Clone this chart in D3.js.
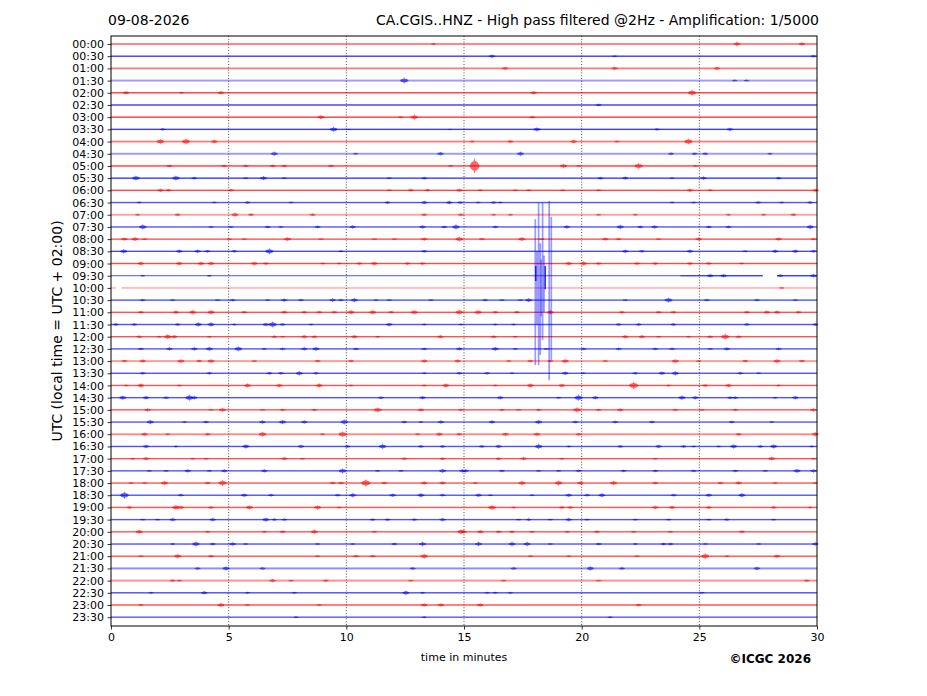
<!DOCTYPE html>
<html>
<head>
<meta charset="utf-8">
<script src="https://cdn.jsdelivr.net/npm/d3@7"></script>
<style>
	body { margin: 0; background: #fff; }
	svg text { font-family: "DejaVu Sans", sans-serif; fill: #000; }
</style>
</head>
<body>
<svg id="chart" width="927" height="696"></svg>
<script>
//===== DATA =====//

var dayLabel = '09-08-2026';
var titleText = 'CA.CGIS..HNZ - High pass filtered @2Hz - Amplification: 1/5000';
var yTitle = 'UTC (local time = UTC + 02:00)';
var xTitle = 'time in minutes';
var creditText = '\u00a9ICGC 2026';

var minuteTicks = [0, 5, 10, 15, 20, 25, 30];

var rowLabels = [
	'00:00', '00:30', '01:00', '01:30', '02:00', '02:30', '03:00', '03:30',
	'04:00', '04:30', '05:00', '05:30', '06:00', '06:30', '07:00', '07:30',
	'08:00', '08:30', '09:00', '09:30', '10:00', '10:30', '11:00', '11:30',
	'12:00', '12:30', '13:00', '13:30', '14:00', '14:30', '15:00', '15:30',
	'16:00', '16:30', '17:00', '17:30', '18:00', '18:30', '19:00', '19:30',
	'20:00', '20:30', '21:00', '21:30', '22:00', '22:30', '23:00', '23:30'
];

var traceColors = ['#ff0000', '#0000ff'];

// background noise level of each trace (counts)
var rowNoise = [
	200, 150, 220, 300, 150, 150, 150, 150,
	220, 300, 150, 150, 160, 170, 320, 220,
	170, 160, 160, 150, 450, 170, 170, 170,
	170, 170, 300, 170, 170, 170, 170, 190,
	260, 170, 170, 170, 170, 170, 170, 170,
	170, 170, 170, 260, 260, 160, 160, 200
];

// [minute, amplitude in counts] for the visible wave bursts of each trace
var rowBursts = [
	[[13.7, 300], [26.6, 600], [29.36, 500]],
	[[16.19, 500], [21.4, 300], [29.85, 400]],
	[[16.75, 500], [21.4, 500], [25.75, 500]],
	[[12.46, 800], [26.5, 300], [27.0, 300]],
	[[0.64, 500], [3.0, 300], [4.67, 500], [17.96, 500], [24.69, 800]],
	[[20.72, 400]],
	[[8.92, 600], [12.3, 300], [12.89, 700], [17.9, 400]],
	[[2.2, 400], [9.46, 700], [10.1, 200], [14.4, 200], [18.1, 600], [23.2, 400], [26.3, 500]],
	[[2.1, 700], [3.19, 800], [4.39, 500], [15.34, 300], [16.97, 400], [19.66, 500], [21.5, 300], [24.54, 800]],
	[[6.94, 600], [10.4, 300], [14.0, 500], [17.4, 600], [23.8, 400], [24.8, 400], [25.25, 400], [28.0, 300]],
	[[2.48, 400], [4.81, 400], [5.73, 400], [6.87, 400], [7.36, 400], [9.35, 400], [14.44, 300], [15.45, 2000], [19.23, 600], [19.87, 300], [22.42, 800], [24.83, 300]],
	[[1.06, 700], [2.76, 700], [3.54, 400], [5.73, 300], [6.48, 600], [7.36, 300], [11.82, 300], [13.31, 400], [20.8, 400], [21.85, 500], [23.84, 300], [25.18, 500], [28.37, 400]],
	[[2.1, 500], [2.44, 400], [5.1, 400], [11.82, 300], [12.74, 400], [13.45, 400], [14.8, 500], [15.7, 300], [17.18, 300], [17.75, 300], [19.2, 300], [20.72, 300], [24.6, 500], [25.46, 300], [29.95, 500]],
	[[1.2, 300], [4.39, 300], [5.8, 400], [7.65, 300], [11.75, 400], [13.31, 500], [14.37, 500], [14.84, 400], [15.6, 300], [16.26, 400], [16.54, 300], [23.84, 300], [24.76, 300], [27.5, 400], [28.5, 300], [29.71, 400]],
	[[1.13, 300], [2.83, 400], [5.27, 600], [5.95, 400], [8.57, 400], [13.31, 400], [14.87, 400], [16.26, 300], [16.97, 300], [20.72, 300], [22.28, 300], [26.24, 300], [27.73, 300], [29.0, 400]],
	[[1.35, 700], [4.25, 300], [5.1, 300], [6.66, 400], [7.22, 300], [8.78, 400], [10.27, 500], [13.24, 500], [14.16, 400], [14.66, 700], [16.33, 400], [19.37, 500], [21.64, 600], [22.49, 400], [23.1, 500], [25.4, 400], [26.24, 400], [29.71, 600]],
	[[0.57, 500], [1.02, 600], [1.42, 300], [5.03, 300], [5.66, 300], [7.5, 600], [8.92, 300], [11.19, 300], [12.04, 300], [13.31, 500], [14.8, 700], [15.76, 400], [17.46, 600], [18.3, 300], [21.0, 500], [21.57, 400], [23.27, 300], [24.97, 500], [28.37, 500], [29.85, 400]],
	[[0.54, 600], [2.9, 500], [3.68, 500], [4.1, 400], [5.24, 400], [6.73, 800], [9.77, 300], [13.31, 400], [21.85, 500], [22.56, 400], [24.6, 500], [26.95, 300], [28.22, 500], [29.08, 500], [29.85, 400]],
	[[1.27, 500], [2.9, 500], [3.82, 500], [4.25, 500], [6.09, 500], [6.58, 400], [9.0, 300], [9.7, 300], [10.55, 400], [11.19, 500], [12.6, 400], [13.24, 400], [19.45, 500], [20.08, 600], [20.72, 400], [22.35, 400], [23.13, 400], [24.6, 400], [25.4, 400], [26.8, 300]],
	[[1.35, 300], [4.18, 300], [25.46, 500], [26.03, 500], [28.44, 400], [29.85, 500]],
	[[28.5, 300]],
	[[1.35, 400], [2.62, 300], [4.53, 300], [5.17, 400], [6.66, 300], [7.36, 500], [8.07, 400], [9.42, 500], [9.77, 400], [10.34, 600], [11.26, 300], [11.82, 300], [13.6, 300], [15.9, 400], [16.61, 300], [17.4, 300], [17.75, 600], [21.85, 300], [23.69, 700], [25.32, 400], [27.45, 400], [29.08, 300]],
	[[1.27, 400], [2.76, 500], [3.47, 600], [4.25, 600], [5.66, 400], [7.36, 500], [8.21, 400], [8.85, 400], [9.49, 400], [10.2, 600], [11.12, 600], [11.9, 400], [12.89, 600], [14.8, 700], [15.6, 600], [16.33, 400], [17.25, 400], [18.67, 600], [21.71, 400], [23.27, 400], [23.9, 400], [27.02, 400], [27.87, 500], [28.3, 500], [29.22, 400]],
	[[0.21, 400], [0.99, 400], [2.83, 400], [3.71, 600], [4.25, 600], [5.24, 300], [6.58, 500], [6.87, 800], [7.29, 400], [8.5, 300], [11.82, 500], [13.31, 300], [14.87, 300], [16.33, 300], [17.11, 300], [21.57, 400], [22.42, 400], [23.9, 400], [27.02, 400], [29.93, 400]],
	[[1.2, 400], [2.05, 300], [2.41, 700], [2.69, 500], [4.18, 300], [6.94, 400], [7.29, 300], [8.21, 500], [8.64, 400], [10.34, 500], [11.33, 300], [14.0, 500], [16.26, 400], [17.18, 300], [21.85, 500], [22.56, 500], [23.27, 300], [24.54, 300], [25.46, 400], [26.1, 800], [26.67, 400]],
	[[1.27, 400], [2.48, 500], [3.54, 500], [4.18, 600], [5.41, 700], [6.51, 300], [7.29, 400], [8.21, 500], [8.71, 600], [10.41, 400], [13.31, 400], [14.8, 500], [16.33, 600], [17.18, 300], [18.5, 300], [20.08, 400], [21.57, 400], [23.13, 400], [23.84, 400], [25.46, 300], [26.17, 500], [28.37, 400]],
	[[0.57, 400], [1.35, 500], [2.97, 600], [3.75, 400], [4.25, 600], [6.09, 300], [8.78, 400], [10.2, 400], [13.31, 500], [14.73, 500], [16.9, 300], [17.82, 400], [18.67, 400], [19.3, 600], [21.0, 300], [23.98, 600], [24.97, 300], [26.95, 400], [28.3, 600], [29.36, 400]],
	[[1.35, 400], [4.18, 400], [6.73, 400], [7.22, 400], [8.0, 600], [8.71, 400], [13.31, 300], [14.8, 400], [15.98, 400], [17.04, 300], [19.3, 500], [20.08, 300], [22.28, 400], [23.41, 500], [23.98, 600], [26.74, 400], [27.52, 300]],
	[[0.64, 300], [1.27, 600], [2.9, 300], [5.8, 600], [7.15, 500], [8.85, 600], [10.2, 300], [13.31, 300], [14.23, 600], [16.33, 300], [17.82, 600], [19.16, 500], [22.21, 1000], [23.69, 300], [25.25, 400], [26.24, 500], [28.37, 300]],
	[[0.5, 600], [1.49, 500], [2.34, 400], [3.33, 800], [3.54, 500], [11.47, 400], [13.24, 500], [16.54, 500], [19.02, 300], [19.87, 800], [20.58, 500], [24.26, 600], [24.83, 500], [26.31, 400], [26.53, 400], [28.22, 300], [29.08, 500]],
	[[1.56, 500], [4.25, 300], [4.74, 600], [6.44, 300], [7.29, 400], [8.64, 400], [11.33, 700], [13.17, 500], [14.87, 400], [16.61, 400], [17.32, 300], [18.17, 400], [19.8, 700], [20.72, 400], [21.64, 500], [23.98, 400], [25.11, 300], [26.53, 400], [29.85, 500]],
	[[1.67, 600], [3.12, 300], [4.04, 400], [6.44, 500], [7.29, 600], [8.21, 500], [9.91, 700], [12.46, 400], [13.17, 300], [14.02, 500], [16.19, 500], [18.17, 600], [19.73, 400], [21.43, 400], [22.99, 400], [26.38, 400], [28.08, 300]],
	[[1.42, 500], [2.41, 300], [4.11, 400], [6.44, 700], [8.99, 300], [9.84, 800], [13.03, 300], [13.95, 500], [14.8, 400], [16.76, 500], [18.1, 500], [19.87, 400], [26.67, 400], [29.93, 600]],
	[[1.49, 500], [2.76, 300], [5.73, 600], [8.07, 500], [10.05, 400], [11.54, 700], [13.17, 400], [14.09, 400], [15.76, 400], [16.47, 500], [18.17, 700], [19.45, 300], [21.64, 400], [23.27, 500], [24.33, 400], [24.76, 300], [25.82, 300], [26.46, 600], [27.59, 400], [28.16, 600], [29.78, 300]],
	[[0.92, 300], [1.49, 500], [3.47, 300], [4.04, 300], [7.36, 500], [8.14, 300], [12.46, 400], [14.09, 400], [16.47, 400], [17.53, 500], [19.16, 300], [23.13, 300], [28.08, 600], [29.85, 300]],
	[[1.63, 300], [2.34, 300], [3.26, 500], [4.18, 300], [4.81, 500], [6.51, 500], [9.84, 700], [11.33, 300], [12.32, 300], [14.09, 600], [14.94, 500], [15.06, 500], [16.61, 400], [18.17, 300], [19.02, 300], [19.87, 400], [21.78, 400], [23.13, 400], [24.76, 400], [26.53, 400], [27.8, 300], [29.15, 600], [29.85, 500]],
	[[0.85, 300], [1.42, 300], [2.27, 600], [4.11, 400], [4.74, 800], [9.42, 400], [9.77, 400], [10.83, 1000], [11.61, 400], [13.31, 500], [14.09, 500], [15.48, 300], [17.46, 600], [19.02, 700], [19.94, 500], [21.36, 600], [23.13, 400], [25.89, 400], [26.67, 500], [28.22, 300], [29.93, 300]],
	[[0.57, 900], [2.97, 400], [5.66, 500], [6.8, 400], [9.63, 400], [10.27, 600], [11.97, 500], [13.17, 600], [14.09, 400], [15.62, 500], [16.12, 300], [17.89, 300], [19.45, 500], [20.23, 400], [20.86, 600], [23.91, 400], [25.4, 500], [26.81, 600]],
	[[0.78, 400], [2.76, 700], [2.97, 500], [4.25, 400], [5.88, 600], [8.78, 600], [9.7, 300], [16.19, 700], [17.11, 300], [19.16, 400], [19.52, 400], [23.13, 500], [23.84, 500], [25.4, 400], [28.16, 400], [29.71, 300]],
	[[1.35, 300], [1.98, 300], [2.62, 500], [4.32, 500], [6.58, 600], [6.94, 400], [7.36, 400], [11.12, 400], [11.75, 400], [12.89, 400], [14.09, 500], [17.32, 300], [17.75, 400], [18.67, 300], [19.45, 500], [20.23, 300], [22.28, 300], [23.69, 300], [25.4, 300], [26.17, 400], [28.16, 300]],
	[[1.2, 600], [4.11, 300], [6.51, 300], [7.29, 400], [8.64, 600], [11.19, 300], [14.87, 700], [14.99, 500], [15.69, 500], [16.47, 400], [17.04, 400], [17.89, 300], [19.38, 300], [20.65, 400], [22.21, 300], [23.77, 300], [26.81, 400]],
	[[2.62, 300], [3.61, 700], [4.32, 400], [5.17, 500], [5.73, 300], [8.78, 300], [10.27, 300], [12.04, 400], [13.24, 600], [15.62, 600], [17.04, 600], [17.68, 600], [18.67, 300], [20.72, 400], [22.28, 300], [23.48, 400], [23.77, 400], [25.25, 300], [27.52, 300], [29.93, 500]],
	[[1.27, 300], [2.83, 600], [4.25, 400], [8.78, 300], [10.41, 400], [11.12, 400], [13.31, 700], [17.82, 300], [19.45, 300], [22.35, 300], [25.25, 800], [26.17, 300], [28.3, 500]],
	[[3.68, 400], [4.89, 600], [6.44, 400], [12.82, 400], [17.11, 400], [20.37, 600], [21.71, 400], [27.45, 500]],
	[[2.62, 400], [2.9, 300], [6.87, 500], [7.65, 300], [9.13, 400], [12.74, 300], [16.68, 300], [20.72, 300], [29.57, 400]],
	[[1.7, 300], [3.96, 500], [5.8, 300], [7.79, 300], [12.53, 600], [13.24, 300], [15.98, 300], [16.33, 300], [16.97, 300], [25.11, 300]],
	[[1.27, 300], [4.67, 600], [5.8, 300], [8.85, 300], [13.31, 500], [14.02, 500], [15.69, 500], [22.42, 400]],
	[[7.86, 300], [13.31, 300], [21.21, 300]]
];

// large transients on the 09:30 trace: [minute, up counts, down counts, strong]
var spikeRow = '09:30';
var spikes = [
	[18.03, 13900, 22000, 0], [18.10, 6000, 12000, 0], [18.17, 17900, 22000, 0],
	[18.24, 8000, 19500, 0], [18.28, 4000, 10000, 0], [18.34, 17900, 15800, 0],
	[18.40, 5000, 9000, 0], [18.62, 18400, 25700, 0], [18.71, 14500, 20700, 0],
	[18.05, 2400, 1300, 1], [18.45, 2400, 3300, 1]
];

// spans where the trace is flat, and spans with no data: [row, from, to]
var quietSpans = [['09:30', 0, 24.19]];
var traceGaps = [['09:30', 27.7, 28.3], ['10:00', 0.2, 0.45]];

//===== CHART =====//

var svg = d3.select('#chart');
var plot = {left: 111, right: 817, top: 36, bottom: 626};

var x = d3.scaleLinear().domain([0, 30]).range([plot.left, plot.right]);
var y = d3.scalePoint().domain(rowLabels).range([44, 617.2]);
var amp = d3.scaleLinear().domain([0, 3000]).range([0, y.step()]);

// grid
svg.append('g').selectAll('line')
	.data(minuteTicks.slice(1, -1))
	.enter().append('line')
	.attr('x1', function (d) { return x(d); }).attr('x2', function (d) { return x(d); })
	.attr('y1', plot.top).attr('y2', plot.bottom)
	.attr('stroke', '#222').attr('stroke-width', 0.8)
	.attr('stroke-dasharray', '1,1.8');

function rowSegments(label) {
	var cuts = [[0, 30, false]];
	quietSpans.concat(traceGaps).forEach(function (s) {
		if (s[0] !== label) { return; }
		var isGap = traceGaps.indexOf(s) >= 0;
		var next = [];
		cuts.forEach(function (c) {
			if (s[2] <= c[0] || s[1] >= c[1]) { next.push(c); return; }
			if (s[1] > c[0]) { next.push([c[0], s[1], c[2]]); }
			if (!isGap) { next.push([Math.max(s[1], c[0]), Math.min(s[2], c[1]), true]); }
			if (s[2] < c[1]) { next.push([s[2], c[1], c[2]]); }
		});
		cuts = next;
	});
	return cuts;
}

var traces = svg.append('g');

rowLabels.forEach(function (label, i) {
	var color = traceColors[i % 2];
	var y0 = y(label);
	var noise = rowNoise[i];
	var g = traces.append('g');

	rowSegments(label).forEach(function (seg) {
		if (seg[2]) {
			g.append('line')
				.attr('x1', x(seg[0])).attr('x2', x(seg[1]))
				.attr('y1', y0).attr('y2', y0)
				.attr('stroke', color).attr('stroke-width', 1)
				.attr('stroke-opacity', 0.7);
		} else {
			var h = Math.max(0.7, Math.min(amp(noise), 1));
			g.append('rect')
				.attr('x', x(seg[0])).attr('width', x(seg[1]) - x(seg[0]))
				.attr('y', y0 - h).attr('height', 2 * h)
				.attr('fill', color)
				.attr('fill-opacity', Math.min(0.78, 115 / noise));
		}
	});

	g.selectAll('path')
		.data(rowBursts[i])
		.enter().append('path')
		.attr('d', function (d) {
			var w = Math.min(0.09 + d[1] / 8000, 0.22), a = amp(d[1]);
			var p = d3.path();
			p.moveTo(x(d[0] - w), y0);
			p.lineTo(x(d[0] - w * 0.6), y0 - a * 0.45);
			p.lineTo(x(d[0] - w * 0.15), y0 - a * 0.6);
			p.lineTo(x(d[0]), y0 - a);
			p.lineTo(x(d[0] + w * 0.15), y0 - a * 0.6);
			p.lineTo(x(d[0] + w * 0.6), y0 - a * 0.45);
			p.lineTo(x(d[0] + w), y0);
			p.lineTo(x(d[0] + w * 0.6), y0 + a * 0.45);
			p.lineTo(x(d[0] + w * 0.15), y0 + a * 0.6);
			p.lineTo(x(d[0]), y0 + a);
			p.lineTo(x(d[0] - w * 0.15), y0 + a * 0.6);
			p.lineTo(x(d[0] - w * 0.6), y0 + a * 0.45);
			p.closePath();
			return p.toString();
		})
		.attr('fill', color)
		.attr('fill-opacity', 0.6);
});

svg.append('g').selectAll('line')
	.data(spikes)
	.enter().append('line')
	.attr('x1', function (d) { return x(d[0]); }).attr('x2', function (d) { return x(d[0]); })
	.attr('y1', function (d) { return y(spikeRow) - amp(d[1]); })
	.attr('y2', function (d) { return y(spikeRow) + amp(d[2]); })
	.attr('stroke', traceColors[1])
	.attr('stroke-width', function (d) { return d[3] ? 1.4 : 1.7; })
	.attr('stroke-opacity', function (d) { return d[3] ? 0.9 : 0.4; });

// frame
svg.append('rect')
	.attr('x', plot.left).attr('y', plot.top)
	.attr('width', plot.right - plot.left).attr('height', plot.bottom - plot.top)
	.attr('fill', 'none').attr('stroke', '#000').attr('stroke-width', 1);

// axes
var xAxis = svg.append('g')
	.attr('transform', 'translate(0,' + plot.bottom + ')')
	.call(d3.axisBottom(x).tickValues(minuteTicks).tickFormat(d3.format('d')).tickSize(3.5).tickPadding(3.5));
var yAxis = svg.append('g')
	.attr('transform', 'translate(' + plot.left + ',0)')
	.call(d3.axisLeft(y).tickSize(3.5).tickPadding(3.5));

[xAxis, yAxis].forEach(function (ax) {
	ax.select('.domain').remove();
	ax.selectAll('text').style('font-size', '11px').style('font-family', '"DejaVu Sans", sans-serif');
	ax.selectAll('line').attr('stroke', '#000').attr('stroke-width', 0.8);
});

// texts
svg.append('text').attr('x', 108).attr('y', 25)
	.style('font-size', '14px').text(dayLabel);
svg.append('text').attr('x', 819).attr('y', 25).attr('text-anchor', 'end')
	.style('font-size', '14px').text(titleText);
svg.append('text').attr('x', (plot.left + plot.right) / 2).attr('y', 661)
	.attr('text-anchor', 'middle').style('font-size', '11px').text(xTitle);
svg.append('text')
	.attr('transform', 'translate(62,' + (plot.top + plot.bottom) / 2 + ') rotate(-90)')
	.attr('text-anchor', 'middle').style('font-size', '14px').text(yTitle);
svg.append('text').attr('x', 811).attr('y', 663).attr('text-anchor', 'end')
	.style('font-size', '12px').style('font-weight', 'bold').text(creditText);
</script>
</body>
</html>
